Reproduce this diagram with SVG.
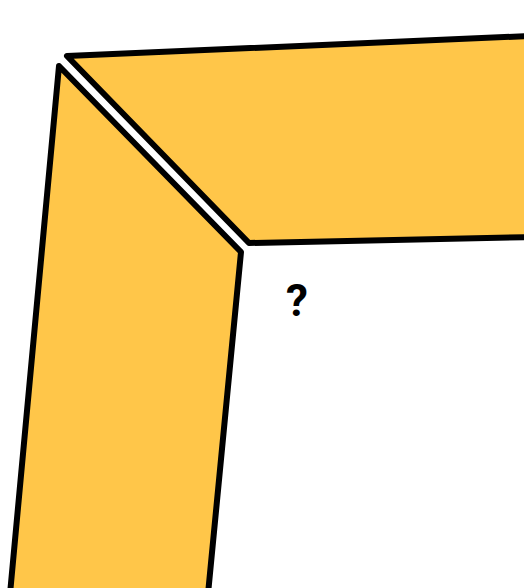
<svg xmlns="http://www.w3.org/2000/svg" width="524" height="588" viewBox="0 0 524 588">
<style>
.piece{fill:#FFC649;stroke:#000;stroke-width:6;stroke-linejoin:round}
.q{font-family:Roboto,"Liberation Sans",Arial,sans-serif;font-weight:bold;font-size:44px;fill:#000}
</style>
<rect width="524" height="588" fill="#fff"/>
<g id="top-piece">
<polygon class="piece" points="67,56 530,36 530,237 249,243"/>
</g>
<g id="left-piece">
<polygon class="piece" points="59,66 241,252 208,594 10,594"/>
</g>
<g id="question">
<text class="q" x="297" y="316" text-anchor="middle">?</text>
</g>
<g id="connectors"></g>
</svg>
